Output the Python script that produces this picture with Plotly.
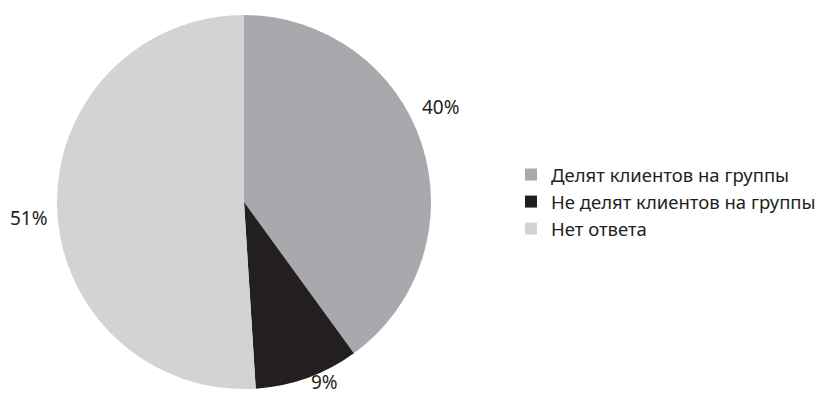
import plotly.graph_objects as go

categories = ["Делят клиентов на группы", "Не делят клиентов на группы", "Нет ответа"]
values = [40, 9, 51]
value_labels = ["40%", "9%", "51%"]
colors = ["#a7a9ac", "#231f20", "#d1d3d4"]

W, H = 823, 394
off = 8  # page body margin offset
cx, cy, r = 244 - off, 202 - off, 187

fig = go.Figure(go.Pie(
    labels=categories,
    values=values,
    sort=False,
    direction="clockwise",
    rotation=0,
    marker=dict(colors=colors, line=dict(width=0)),
    textinfo="none",
    hoverinfo="label+percent",
    domain=dict(x=[(cx - r) / W, (cx + r) / W], y=[(H - cy - r) / H, (H - cy + r) / H]),
))

# label positions (screen pixels) for the percentage texts
label_px = [(441, 107), (324, 382), (29, 218)]
for txt, (px, py) in zip(value_labels, label_px):
    fig.add_annotation(text=txt, x=(px - off) / W, y=1 - (py - off) / H,
                       xref="paper", yref="paper",
                       showarrow=False, xanchor="center", yanchor="middle",
                       font=dict(size=19, color="#231f20", family="Noto Sans"))

fig.update_layout(
    width=W, height=H,
    margin=dict(l=0, r=0, t=0, b=0),
    paper_bgcolor="white", plot_bgcolor="white",
    font=dict(family="Noto Sans", size=18.5, color="#231f20"),
    legend=dict(x=(511 - off) / W, y=1 - (202 - off) / H, xanchor="left", yanchor="middle",
                font=dict(size=18.5, color="#231f20"), tracegroupgap=0,
                itemwidth=30),
    showlegend=True,
)

fig.write_html("out.html")
